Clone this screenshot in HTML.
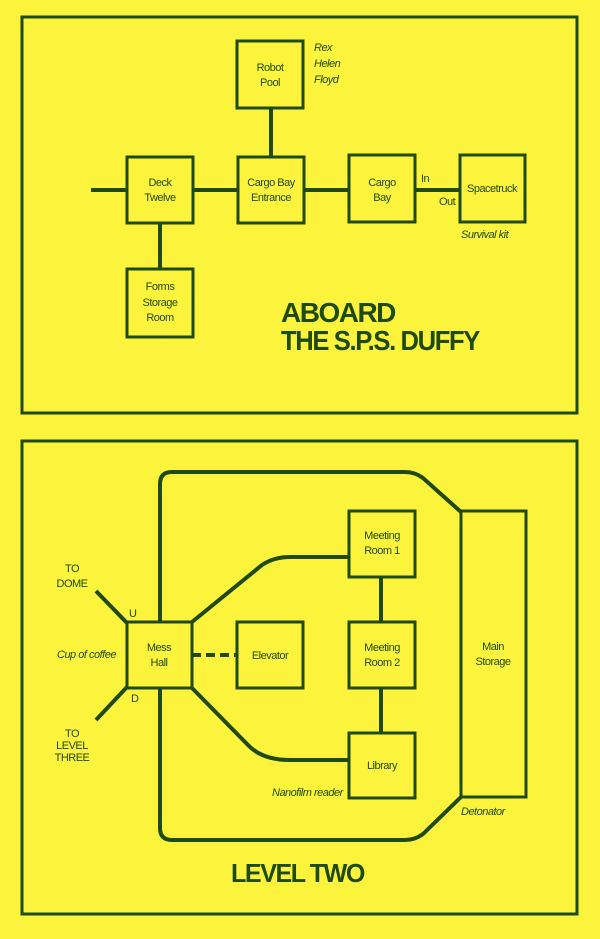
<!DOCTYPE html>
<html><head><meta charset="utf-8"><style>
html,body{margin:0;padding:0;background:#fcf43c;}
svg{display:block}
text{font-family:"Liberation Sans Narrow","Liberation Sans",sans-serif;fill:#1f4a14;font-size:11px;letter-spacing:-0.5px}
.c{text-anchor:middle}
.i{font-style:italic}
.t{font-family:"Liberation Sans",sans-serif;font-weight:bold;font-size:28px;letter-spacing:-1.5px}
</style></head><body>
<svg width="600" height="939" viewBox="0 0 600 939" xmlns="http://www.w3.org/2000/svg">
<rect width="600" height="939" fill="#fcf43c"/>
<g stroke="#1f4a14" fill="none">
<rect x="22" y="17" width="555" height="396" stroke-width="3"/>
<g stroke-width="4">
<line x1="91" y1="190" x2="459" y2="190"/>
<line x1="271" y1="108" x2="271" y2="156"/>
<line x1="160" y1="223" x2="160" y2="268"/>
</g>
<g stroke-width="3" fill="#fcf43c">
<rect x="237" y="41" width="66" height="67"/>
<rect x="127" y="157" width="66" height="66"/>
<rect x="238" y="157" width="66" height="66"/>
<rect x="349" y="155" width="66" height="67"/>
<rect x="460" y="155" width="65" height="67"/>
<rect x="127" y="269" width="66" height="68"/>
</g>
<rect x="22" y="441" width="555" height="473" stroke-width="3"/>
<g stroke-width="4">
<path d="M160 622 L160 484 Q160 472 172 472 L405 472 Q415 472 423 478 L461 512"/>
<path d="M160 688 L160 828 Q160 840 172 840 L405 840 Q415 840 423 834 L461 797"/>
<path d="M192 622 L262 565 Q274 557 290 557 L349 557"/>
<path d="M192 688 L248 745 Q262 760 290 760 L349 760"/>
<path d="M192 655 L237 655" stroke-dasharray="9,5"/>
<line x1="381" y1="577" x2="381" y2="622"/>
<line x1="381" y1="688" x2="381" y2="733"/>
<line x1="96" y1="591" x2="127" y2="623"/>
<line x1="96" y1="720" x2="127" y2="687"/>
</g>
<g stroke-width="3" fill="#fcf43c">
<rect x="127" y="622" width="65" height="66"/>
<rect x="237" y="622" width="66" height="66"/>
<rect x="349" y="511" width="66" height="66"/>
<rect x="349" y="622" width="66" height="66"/>
<rect x="349" y="733" width="66" height="65"/>
<rect x="461" y="511" width="65" height="286"/>
</g>
</g>
<text class="c" x="270" y="71">Robot</text><text class="c" x="270" y="86">Pool</text>
<text class="i" x="314" y="51">Rex</text><text class="i" x="314" y="67">Helen</text><text class="i" x="314" y="83">Floyd</text>
<text class="c" x="160" y="186">Deck</text><text class="c" x="160" y="201">Twelve</text>
<text class="c" x="271" y="186">Cargo Bay</text><text class="c" x="271" y="201">Entrance</text>
<text class="c" x="382" y="186">Cargo</text><text class="c" x="382" y="201">Bay</text>
<text class="c" x="492" y="192">Spacetruck</text>
<text x="421" y="182">In</text><text x="439" y="205">Out</text>
<text class="i" x="461" y="238">Survival kit</text>
<text class="c" x="160" y="290">Forms</text><text class="c" x="160" y="306">Storage</text><text class="c" x="160" y="321">Room</text>
<text class="t" x="281" y="322">ABOARD</text>
<text class="t" x="281" y="350" textLength="198" lengthAdjust="spacingAndGlyphs">THE S.P.S. DUFFY</text>
<text class="c" x="72" y="572">TO</text><text class="c" x="72" y="587">DOME</text>
<text x="129" y="617">U</text><text x="131" y="702">D</text>
<text class="c" x="72" y="737">TO</text><text class="c" x="72" y="749">LEVEL</text><text class="c" x="72" y="761">THREE</text>
<text class="i" x="57" y="658">Cup of coffee</text>
<text class="c" x="159" y="651">Mess</text><text class="c" x="159" y="666">Hall</text>
<text class="c" x="270" y="659">Elevator</text>
<text class="c" x="382" y="539">Meeting</text><text class="c" x="382" y="554">Room 1</text>
<text class="c" x="382" y="651">Meeting</text><text class="c" x="382" y="666">Room 2</text>
<text class="c" x="382" y="769">Library</text>
<text class="c" x="493" y="650">Main</text><text class="c" x="493" y="665">Storage</text>
<text class="i" x="272" y="796">Nanofilm reader</text>
<text class="i" x="461" y="815">Detonator</text>
<text class="t" x="231" y="882" style="font-size:26px" textLength="133" lengthAdjust="spacingAndGlyphs">LEVEL TWO</text>
</svg>
</body></html>
